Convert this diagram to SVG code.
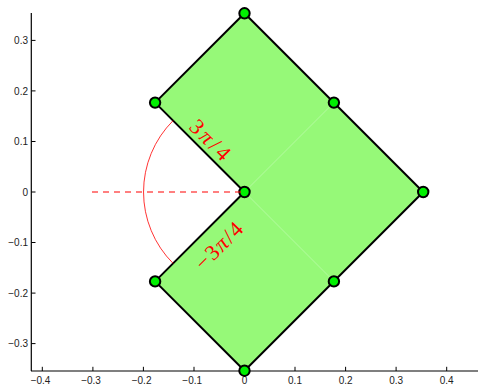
<svg xmlns="http://www.w3.org/2000/svg" width="479" height="385" viewBox="0 0 479 385">
<style>
.ax{stroke:#000;stroke-width:1.2;fill:none}
.tk{font-family:"Liberation Sans",Arial,sans-serif;font-size:10px;fill:#222}
.pt{fill:#00f000;stroke:#000;stroke-width:2}
.lbl{font-family:"Liberation Serif","Times New Roman",serif;font-size:22px;fill:#ff0000}
</style>
<rect width="479" height="385" fill="#fff"/>
<g id="shape">
<polygon points="244.5,192 155.1,102.6 244.5,13.3 423.2,192 244.5,370.7 155.1,281.4" fill="#96f978" stroke="none"/>
<line x1="244.5" y1="192" x2="333.9" y2="102.6" stroke="#b4fca0" stroke-width="1"/>
<line x1="244.5" y1="192" x2="333.9" y2="281.4" stroke="#b4fca0" stroke-width="1"/>
<polygon points="244.5,192 155.1,102.6 244.5,13.3 423.2,192 244.5,370.7 155.1,281.4" fill="none" stroke="#000" stroke-width="2" stroke-linejoin="round"/>
</g>
<g id="axes">
<line class="ax" x1="31.3" y1="13" x2="31.3" y2="371"/>
<line class="ax" x1="31" y1="371" x2="478" y2="371"/>
<g stroke="#000" stroke-width="1">
<line x1="31.3" y1="40.4" x2="35.5" y2="40.4"/>
<line x1="31.3" y1="90.9" x2="35.5" y2="90.9"/>
<line x1="31.3" y1="141.5" x2="35.5" y2="141.5"/>
<line x1="31.3" y1="192" x2="35.5" y2="192"/>
<line x1="31.3" y1="242.5" x2="35.5" y2="242.5"/>
<line x1="31.3" y1="293.1" x2="35.5" y2="293.1"/>
<line x1="31.3" y1="343.6" x2="35.5" y2="343.6"/>
<line x1="42.3" y1="371" x2="42.3" y2="366.8"/>
<line x1="92.9" y1="371" x2="92.9" y2="366.8"/>
<line x1="143.4" y1="371" x2="143.4" y2="366.8"/>
<line x1="194" y1="371" x2="194" y2="366.8"/>
<line x1="244.5" y1="371" x2="244.5" y2="366.8"/>
<line x1="295" y1="371" x2="295" y2="366.8"/>
<line x1="345.6" y1="371" x2="345.6" y2="366.8"/>
<line x1="396.1" y1="371" x2="396.1" y2="366.8"/>
<line x1="446.7" y1="371" x2="446.7" y2="366.8"/>
</g>
<g class="tk" text-anchor="end">
<text x="28" y="44">0.3</text>
<text x="28" y="94.5">0.2</text>
<text x="28" y="145">0.1</text>
<text x="28" y="195.5">0</text>
<text x="28" y="246">−0.1</text>
<text x="28" y="296.6">−0.2</text>
<text x="28" y="347.1">−0.3</text>
</g>
<g class="tk" text-anchor="middle">
<text x="40.5" y="383.5">−0.4</text>
<text x="91" y="383.5">−0.3</text>
<text x="141.6" y="383.5">−0.2</text>
<text x="192.2" y="383.5">−0.1</text>
<text x="244.5" y="383.5">0</text>
<text x="295" y="383.5">0.1</text>
<text x="345.6" y="383.5">0.2</text>
<text x="396.1" y="383.5">0.3</text>
<text x="446.7" y="383.5">0.4</text>
</g>
</g>
<g id="angle">
<path d="M173.1,120.6 A101,101 0 0 0 173.1,263.4" fill="none" stroke="#ff0000" stroke-width="0.8"/>
</g>
<g id="points">
<circle class="pt" cx="244.5" cy="13.3" r="5.2"/>
<circle class="pt" cx="155.1" cy="102.6" r="5.2"/>
<circle class="pt" cx="333.9" cy="102.6" r="5.2"/>
<circle class="pt" cx="423.2" cy="192" r="5.2"/>
<circle class="pt" cx="155.1" cy="281.4" r="5.2"/>
<circle class="pt" cx="333.9" cy="281.4" r="5.2"/>
<circle class="pt" cx="244.5" cy="370.7" r="5.2"/>
<circle class="pt" cx="244.5" cy="192" r="5.2"/>
</g>
<g id="connectors">
<line x1="92" y1="192" x2="244.5" y2="192" stroke="#ff0000" stroke-width="1.2" stroke-dasharray="6,5"/>
</g>
<g id="labels">
<text class="lbl" text-anchor="middle" textLength="48" lengthAdjust="spacing" transform="translate(205,145) rotate(45)">3<tspan font-style="italic">π</tspan>/4</text>
<text class="lbl" text-anchor="middle" textLength="58" lengthAdjust="spacing" transform="translate(224,251) rotate(-45)">−3<tspan font-style="italic">π</tspan>/4</text>
</g>
</svg>
